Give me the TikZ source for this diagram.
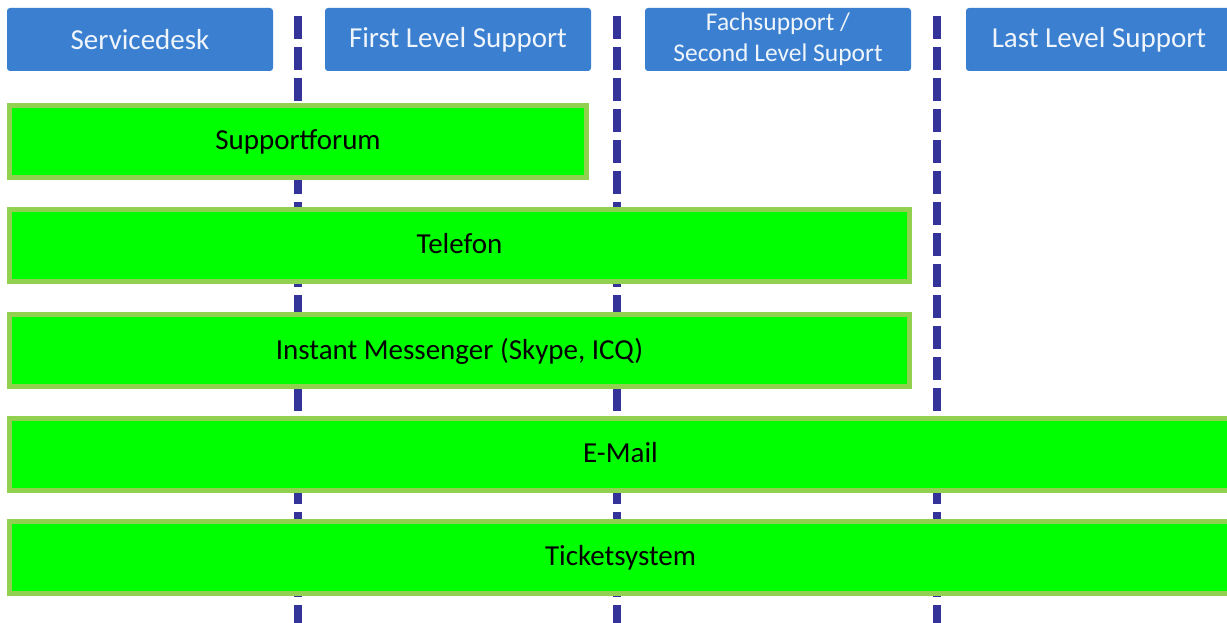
\documentclass[tikz,border=0pt]{standalone}
\usepackage{fontspec}
\setmainfont{Carlito}
\usepackage{xcolor}
\usepackage{tikz}
\usetikzlibrary{positioning}

\definecolor{headblue}{HTML}{3A7FD0}
\definecolor{barfill}{HTML}{00FF00}
\definecolor{barline}{HTML}{92D050}
\definecolor{divblue}{HTML}{333399}

\begin{document}
\begin{tikzpicture}[
    x=1pt, y=-1pt,
    every node/.style={font=\fontsize{29}{35}\selectfont},
    head/.style={rectangle, rounded corners=3pt, fill=headblue, text=white!92!headblue, align=center, minimum width=266pt, minimum height=63pt, inner sep=0pt, outer sep=0pt},
    bar/.style={rectangle, draw=barline, line width=5pt, fill=barfill, minimum height=72pt, inner sep=0pt, outer sep=0pt, text depth=4pt},
    divider/.style={draw=divblue, line width=8pt, dash pattern=on 23pt off 8pt}
  ]

  \useasboundingbox (0,0) rectangle (1227,623);
  \clip (0,0) rectangle (1227,623);

  % level separators
  \foreach \x in {298,617,937}
    \draw[divider] (\x,16) -- (\x,630);

  \node[head, anchor=north west] (servicedesk) at (7,8) {Servicedesk};
  \node[head, right=52pt of servicedesk] (firstlevel) {First Level Support};
  \node[head, right=54pt of firstlevel, font=\fontsize{25.5}{31}\selectfont] (secondlevel) {Fachsupport /\\Second Level Suport};
  \node[head, right=55pt of secondlevel] (lastlevel) {Last Level Support};

  \node[bar, minimum width=577pt, anchor=north west] (forum) at (9.5,105.5) {Supportforum};
  \node[bar, minimum width=900pt, below=32pt of forum.south west, anchor=north west] (phone) {Telefon};
  \node[bar, minimum width=900pt, below=33pt of phone.south west, anchor=north west] (messenger) {Instant Messenger (Skype, ICQ)};
  \node[bar, minimum width=1222pt, below=32pt of messenger.south west, anchor=north west] (mail) {E-Mail};
  \node[bar, minimum width=1222pt, below=31pt of mail.south west, anchor=north west] (tickets) {Ticketsystem};

\end{tikzpicture}
\end{document}
